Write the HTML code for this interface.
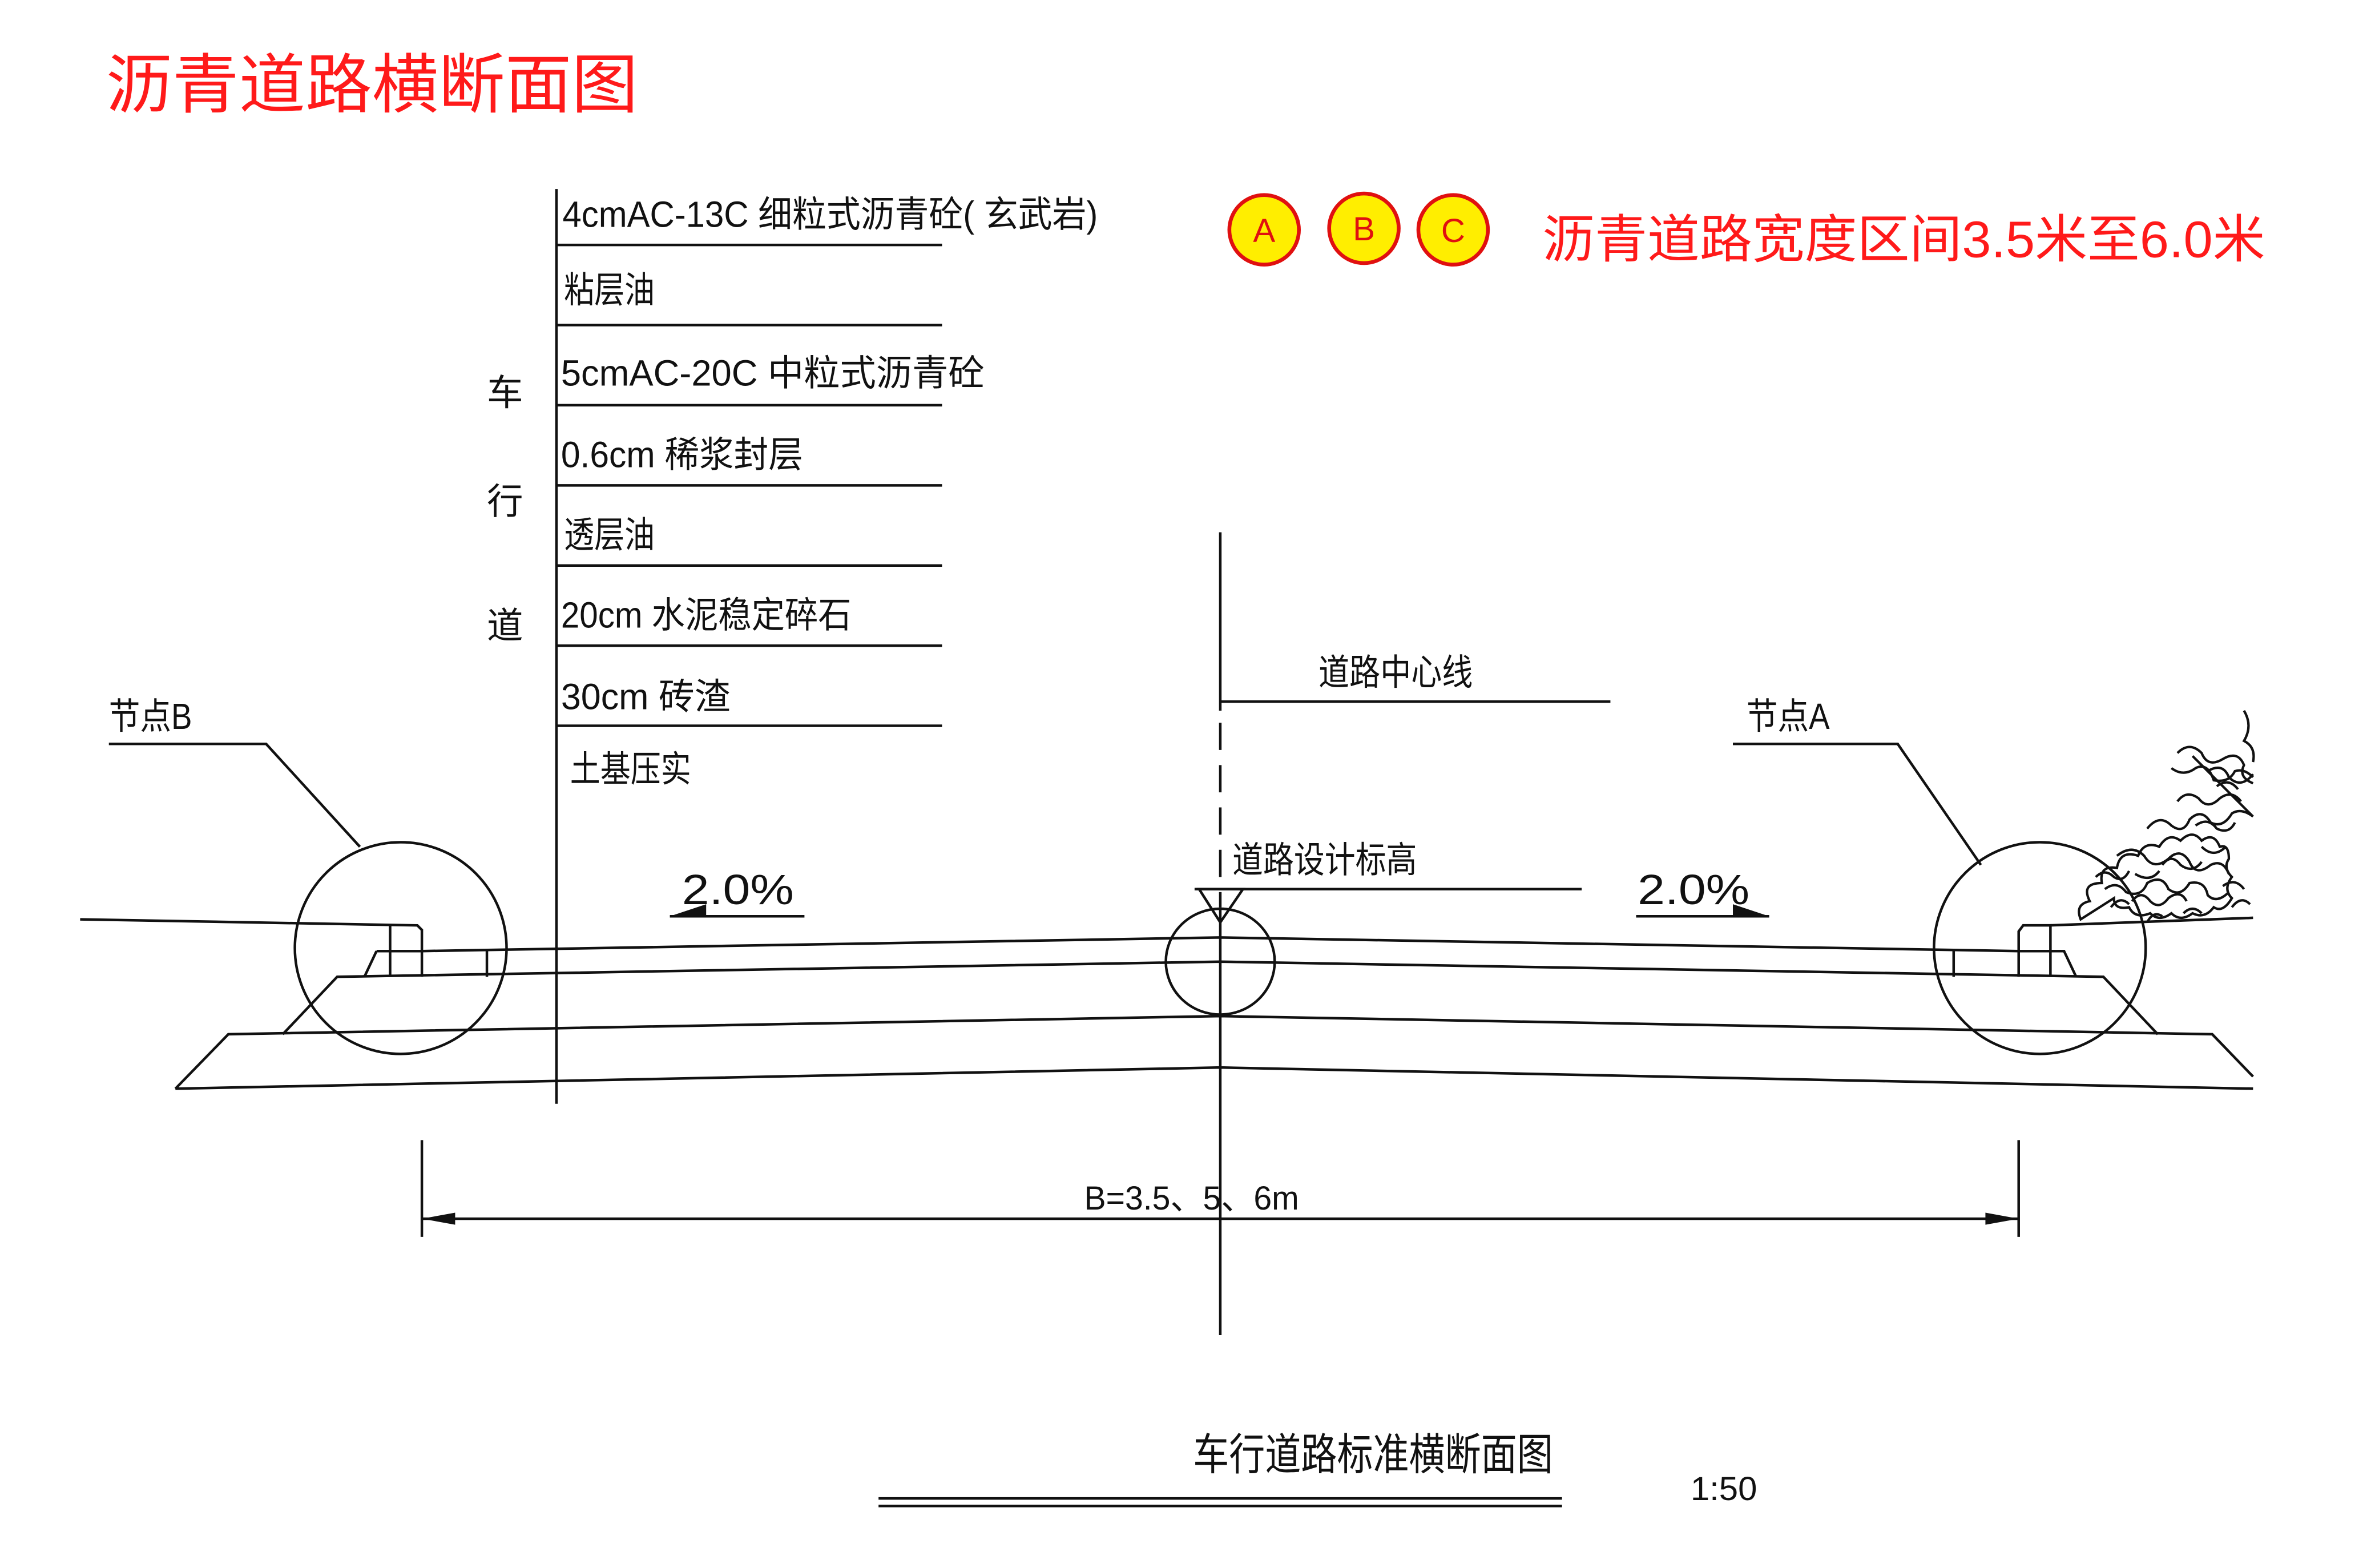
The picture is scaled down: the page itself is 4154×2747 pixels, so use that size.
<!DOCTYPE html>
<html><head><meta charset="utf-8"><style>html,body{margin:0;padding:0;background:#fff}svg{display:block}</style></head>
<body>
<svg width="4154" height="2747" viewBox="0 0 1568 1037" preserveAspectRatio="none" xmlns="http://www.w3.org/2000/svg" font-family="Liberation Sans, Noto Sans CJK SC, sans-serif">
<rect width="1568" height="1037" fill="#fff"/>
<text x="70" y="71" font-size="43" fill="#ff1a1a" textLength="352" lengthAdjust="spacingAndGlyphs">沥青道路横断面图</text>
<g stroke="#e01010" stroke-width="2.5" fill="#ffee00">
<circle cx="836" cy="152" r="23"/><circle cx="902" cy="151" r="23"/><circle cx="961" cy="152" r="23"/></g>
<g fill="#e01010" font-size="22" text-anchor="middle"><text x="836" y="160">A</text><text x="902" y="159">B</text><text x="961" y="160">C</text></g>
<text x="1020" y="170" font-size="34" fill="#ff1a1a" textLength="478" lengthAdjust="spacingAndGlyphs">沥青道路宽度区间3.5米至6.0米</text>
<g stroke="#111" stroke-width="1.7" fill="none">
<line x1="368" y1="125" x2="368" y2="730"/>
<line x1="368" y1="162" x2="623" y2="162"/><line x1="368" y1="215" x2="623" y2="215"/>
<line x1="368" y1="268" x2="623" y2="268"/><line x1="368" y1="321" x2="623" y2="321"/>
<line x1="368" y1="374" x2="623" y2="374"/><line x1="368" y1="427" x2="623" y2="427"/>
<line x1="368" y1="480" x2="623" y2="480"/>
<line x1="807" y1="352" x2="807" y2="470"/>
<line x1="807" y1="478" x2="807" y2="600" stroke-dasharray="18,10"/>
<line x1="807" y1="600" x2="807" y2="883"/>
<line x1="807" y1="464" x2="1065" y2="464"/>
<line x1="790" y1="588" x2="1046" y2="588"/>
<path d="M793 588 L822 588 L807 610 Z"/>
<ellipse cx="807" cy="636" rx="36" ry="35"/>
<line x1="443" y1="606" x2="532" y2="606"/>
<line x1="1082" y1="606" x2="1170" y2="606"/>
<polyline points="72,492 176,492 238,560"/>
<circle cx="265" cy="627" r="70"/>
<polyline points="1146,492 1255,492 1310,572"/>
<circle cx="1349" cy="627" r="70"/>
<polyline points="53,608 276,612 279,615 279,646"/>
<line x1="258" y1="612" x2="258" y2="646"/>
<polyline points="249,629 279,629 807,620 1335,629 1365,629 1373,646"/>
<line x1="249" y1="629" x2="241" y2="646"/>
<line x1="322" y1="629" x2="322" y2="646"/>
<line x1="1292" y1="629" x2="1292" y2="646"/>
<polyline points="187,684 223,646 807,636 1391,646 1427,684"/>
<polyline points="116,720 151,684 807,672 1463,684 1490,712"/>
<polyline points="116,720 807,706 1490,720"/>
<polyline points="1356,646 1356,612 1338,612 1335,616 1335,646"/>
<line x1="1356" y1="612" x2="1490" y2="607"/>
<line x1="279" y1="754" x2="279" y2="818"/><line x1="1335" y1="754" x2="1335" y2="818"/>
<line x1="279" y1="806" x2="1335" y2="806"/>
<line x1="581" y1="991" x2="1033" y2="991"/><line x1="581" y1="996" x2="1033" y2="996"/>
<g stroke-width="1.6">
<path d="M1376 608 q-4-10 6-12 q-6-12 8-12 q-2-12 10-10 q2-12 14-8 q4-10 14-6 q6-10 14-4 q8-8 14 0 q8-6 12 4 q6-2 6 8 q-4 6 2 12 q-6 8 0 14 q-6 10-12 6 q-6 8-14 4 q-8 6-14 0 q-8 6-14 0 q-10 4-14-4 q-10 2-10-6z"/>
<path d="M1400 566 q10-8 18 0 q6 10 16 2 q8-8 14 2 q4 10 14 2 q8-4 12 6 M1392 588 q8-6 14 2 q10 4 14-6 q10-6 14 4 q8 6 14-4 q10-2 12 8 q6 6 14-2"/>
<path d="M1420 548 q8-10 16-2 q8 6 12-4 q8-8 14 2 q8 4 14-6 q6-4 14 2 M1440 530 q6-8 14-2 q6 8 14 0 q8-6 14 2"/>
<path d="M1440 498 q8-8 16 0 q4 10 14 4 q10-6 14 4 q-4 8 6 12 M1436 508 q8 6 16 0 q8-4 12 8 q10 2 14-6 q6-2 12 4"/>
<path d="M1450 500 l40 40 M1460 510 q10-6 14 4 q8 8 16-2 M1484 470 q6 10 0 20 q8 4 6 14"/>
<path d="M1396 600 q6-8 12-2 M1412 578 q10 6 16-2 M1456 560 q8 8 16 0 M1470 586 q8-6 14 2"/>
<path d="M1410 596 q6-8 12 0 q6 6 12-2 q8-6 12 2 M1430 572 q6-8 12 0 q8 6 14-2 M1452 546 q8-6 14 2 q8 4 12-4 M1466 520 q8-6 14 2"/>
<path d="M1386 580 q6-6 12 0 q6 4 10-4 M1420 610 q4-8 10-4 M1444 604 q6-6 12 0 M1476 600 q6-8 12-2"/>
</g>
</g>
<path d="M443 606 L467 598 L467 606 Z" fill="#111"/>
<path d="M1170 606 L1146 598 L1146 606 Z" fill="#111"/>
<path d="M279 806 L301 802 L301 810 Z" fill="#111"/>
<path d="M1335 806 L1313 802 L1313 810 Z" fill="#111"/>
<g fill="#111" font-size="24">
<text x="372" y="150" textLength="354" lengthAdjust="spacingAndGlyphs">4cmAC-13C 细粒式沥青砼( 玄武岩)</text>
<text x="373" y="200" textLength="60" lengthAdjust="spacingAndGlyphs">粘层油</text>
<text x="371" y="255" textLength="280" lengthAdjust="spacingAndGlyphs">5cmAC-20C 中粒式沥青砼</text>
<text x="371" y="309" textLength="160" lengthAdjust="spacingAndGlyphs">0.6cm 稀浆封层</text>
<text x="373" y="362" textLength="60" lengthAdjust="spacingAndGlyphs">透层油</text>
<text x="371" y="415" textLength="192" lengthAdjust="spacingAndGlyphs">20cm 水泥稳定碎石</text>
<text x="371" y="469" textLength="112" lengthAdjust="spacingAndGlyphs">30cm 砖渣</text>
<text x="377" y="517" textLength="80" lengthAdjust="spacingAndGlyphs">土基压实</text>
<text x="322" y="268">车</text><text x="322" y="340">行</text><text x="322" y="422">道</text>
<text x="872" y="453" textLength="102" lengthAdjust="spacingAndGlyphs">道路中心线</text>
<text x="815" y="577" textLength="122" lengthAdjust="spacingAndGlyphs">道路设计标高</text>
<text x="72" y="482" textLength="55" lengthAdjust="spacingAndGlyphs">节点B</text>
<text x="1155" y="482" textLength="55" lengthAdjust="spacingAndGlyphs">节点A</text>
<text x="451" y="598" font-size="28" textLength="74" lengthAdjust="spacingAndGlyphs">2.0%</text>
<text x="1083" y="598" font-size="28" textLength="74" lengthAdjust="spacingAndGlyphs">2.0%</text>
<text x="717" y="800" font-size="22" textLength="142" lengthAdjust="spacingAndGlyphs">B=3.5、5、6m</text>
<text x="789" y="972" font-size="29" textLength="238" lengthAdjust="spacingAndGlyphs">车行道路标准横断面图</text>
<text x="1118" y="992" font-size="22" textLength="44" lengthAdjust="spacingAndGlyphs">1:50</text>
</g>
</svg>
</body></html>
